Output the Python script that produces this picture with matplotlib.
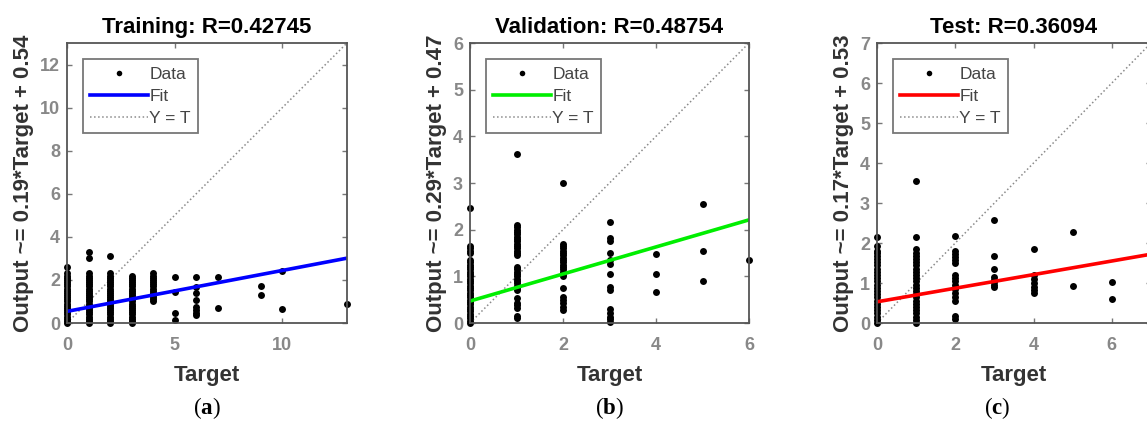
import matplotlib.pyplot as plt

plt.rcParams['font.family'] = ['Liberation Sans', 'DejaVu Sans']
plt.rcParams['mathtext.fontset'] = 'custom'
plt.rcParams['mathtext.rm'] = 'Liberation Serif'
plt.rcParams['mathtext.bf'] = 'Liberation Serif:bold'

# ---- data: target value -> network outputs ----
train_targets = [0, 1, 2, 3, 4, 5, 6, 7, 9, 10, 13]
train_outputs = [
    [0.0, 0.1, 0.2, 0.3, 0.4, 0.5, 0.6, 0.7, 0.8, 0.9, 1.0, 1.1, 1.2, 1.3, 1.4, 1.5, 1.6, 1.7, 1.8, 1.9, 2.0, 2.1, 2.2, 2.3, 2.6],
    [0.0, 0.1, 0.2, 0.3, 0.4, 0.5, 0.6, 0.7, 0.8, 0.9, 1.0, 1.1, 1.2, 1.3, 1.4, 1.5, 1.6, 1.7, 1.8, 1.9, 2.0, 2.1, 2.2, 2.3, 3.0, 3.3],
    [0.0, 0.1, 0.2, 0.3, 0.4, 0.5, 0.6, 0.7, 0.8, 0.9, 1.0, 1.1, 1.2, 1.3, 1.4, 1.5, 1.6, 1.7, 1.8, 1.9, 2.0, 2.1, 2.2, 2.3, 3.1],
    [0.0, 0.1, 0.2, 0.3, 0.4, 0.5, 0.6, 0.7, 0.8, 0.9, 1.0, 1.1, 1.2, 1.3, 1.4, 1.5, 1.6, 1.7, 1.8, 1.9, 2.0, 2.1, 2.2],
    [1.0, 1.1, 1.2, 1.3, 1.4, 1.5, 1.6, 1.7, 1.8, 1.9, 2.0, 2.1, 2.2, 2.3],
    [2.15, 1.45, 0.45, 0.12],
    [2.15, 1.65, 1.4, 1.05, 0.75, 0.6, 0.45, 0.35],
    [2.15, 0.7],
    [1.7, 1.3],
    [2.4, 0.66],
    [0.86],
]

val_targets = [0, 1, 2, 3, 4, 5, 6]
val_outputs = [
    [0.0, 0.05, 0.1, 0.15, 0.2, 0.25, 0.3, 0.35, 0.4, 0.45, 0.5, 0.55, 0.6, 0.65, 0.7, 0.75, 0.8, 0.85, 0.9, 0.95,
     1.0, 1.05, 1.1, 1.15, 1.2, 1.25, 1.3, 1.35, 1.5, 1.55, 1.6, 1.65, 2.47],
    [0.1, 0.15, 0.32, 0.38, 0.42, 0.53, 0.7, 0.75, 0.8, 0.85, 0.9, 0.95, 1.0, 1.05, 1.1, 1.15, 1.2, 1.45, 1.5, 1.55,
     1.6, 1.65, 1.7, 1.75, 1.8, 1.85, 1.9, 1.95, 2.0, 2.05, 2.1, 3.62],
    [0.28, 0.34, 0.42, 0.49, 0.56, 0.74, 1.0, 1.05, 1.1, 1.15, 1.2, 1.25, 1.3, 1.35, 1.4, 1.45, 1.5, 1.55, 1.6, 1.65,
     1.7, 3.0],
    [0.03, 0.08, 0.13, 0.21, 0.3, 0.7, 0.77, 1.06, 1.27, 1.34, 1.49, 1.76, 1.83, 2.16],
    [0.67, 1.06, 1.48],
    [0.89, 1.55, 2.54],
    [1.35],
]

test_targets = [0, 1, 2, 3, 4, 5, 6]
test_outputs = [
    [0.0, 0.08, 0.16, 0.24, 0.32, 0.4, 0.48, 0.56, 0.64, 0.72, 0.8, 0.88, 0.96, 1.04, 1.12, 1.2, 1.28, 1.36, 1.44,
     1.52, 1.6, 1.68, 1.76, 1.8, 1.92, 2.15],
    [0.0, 0.08, 0.16, 0.24, 0.32, 0.4, 0.48, 0.56, 0.64, 0.72, 0.8, 0.88, 0.96, 1.04, 1.12, 1.2, 1.28, 1.36, 1.44,
     1.52, 1.6, 1.68, 1.76, 1.84, 2.15, 3.55],
    [0.1, 0.18, 0.55, 0.65, 0.75, 0.85, 0.95, 1.05, 1.12, 1.2, 1.5, 1.58, 1.65, 1.72, 1.8, 2.18],
    [0.9, 0.95, 1.02, 1.08, 1.15, 1.35, 1.67, 2.58],
    [0.75, 0.82, 0.9, 1.0, 1.1, 1.2, 1.85],
    [0.92, 2.28],
    [0.6, 1.02],
]

panels = [
    # title, slope, intercept, axis max, xticks, yticks, fit colour, label, targets, outputs
    ('Training: R=0.42745', 0.19, 0.54, 13, [0, 5, 10], [0, 2, 4, 6, 8, 10, 12], '#0000ff', 'a', train_targets, train_outputs),
    ('Validation: R=0.48754', 0.29, 0.47, 6, [0, 2, 4, 6], [0, 1, 2, 3, 4, 5, 6], '#00ee00', 'b', val_targets, val_outputs),
    ('Test: R=0.36094', 0.17, 0.53, 7, [0, 2, 4, 6], [0, 1, 2, 3, 4, 5, 6, 7], '#ff0000', 'c', test_targets, test_outputs),
]

W, H = 1147, 432
# axes boxes in pixels: left, top, right, bottom
boxes = [(67, 43, 347, 323), (470, 43, 749, 323), (877, 43, 1151, 323)]

fig = plt.figure(figsize=(W / 100, H / 100), dpi=100)

for (title, slope, icpt, amax, xt, yt, col, lab, targets, outputs), (l, t, r, b) in zip(panels, boxes):
    ax = fig.add_axes([l / W, 1 - b / H, (r - l) / W, (b - t) / H])

    xs, ys = [], []
    for tv, outs in zip(targets, outputs):
        xs += [tv] * len(outs)
        ys += outs

    ax.plot(xs, ys, 'o', color='black', markersize=5.0, markeredgewidth=0, label='Data', zorder=3,
            clip_on=False)
    ax.plot([0, amax], [icpt, slope * amax + icpt], '-', color=col, lw=2.6, label='Fit', zorder=4)
    ax.plot([0, amax], [0, amax], ':', color='#8a8a8a', lw=1.1, label='Y = T', zorder=2)

    ax.set_xlim(0, amax)
    ax.set_ylim(0, amax)
    ax.set_xticks(xt)
    ax.set_yticks(yt)
    ax.tick_params(direction='in', length=3.5, width=1, color='#777777', top=True, right=True,
                   labelsize=13, labelcolor='#888888')
    ax.tick_params(axis='x', pad=10)
    ax.tick_params(axis='y', pad=5)
    for tl in ax.get_xticklabels() + ax.get_yticklabels():
        tl.set_fontweight('bold')
    for sp in ax.spines.values():
        sp.set_color('#555555')
        sp.set_linewidth(1.3)
        sp.set_zorder(5)

    ax.set_title(title, fontsize=16, fontweight='bold', pad=7)
    ax.set_xlabel('Target', fontsize=16, fontweight='bold', color='#333333', labelpad=8)
    ax.set_ylabel('Output ~= %.2f*Target + %.2f' % (slope, icpt), fontsize=16,
                  fontweight='bold', color='#333333', labelpad=4)

    leg = ax.legend(loc='upper left', fontsize=12.5, frameon=True, fancybox=False, numpoints=1,
                    handlelength=3.3, handletextpad=0.1, borderaxespad=0.95, labelspacing=0.42,
                    borderpad=0.4, markerscale=0.8)
    leg.get_frame().set_edgecolor('#555555')
    leg.get_frame().set_linewidth(1.3)
    leg.set_zorder(6)
    for txt in leg.get_texts():
        txt.set_color('#444444')

    cx = (l + r) / 2
    if lab == 'c':
        cx = 997
    fig.text(cx / W, 1 - 408 / H, '($\\mathbf{%s}$)' % lab, fontsize=16.5, ha='center', va='center',
             family='Liberation Serif')

fig.savefig('out.png', dpi=100)
